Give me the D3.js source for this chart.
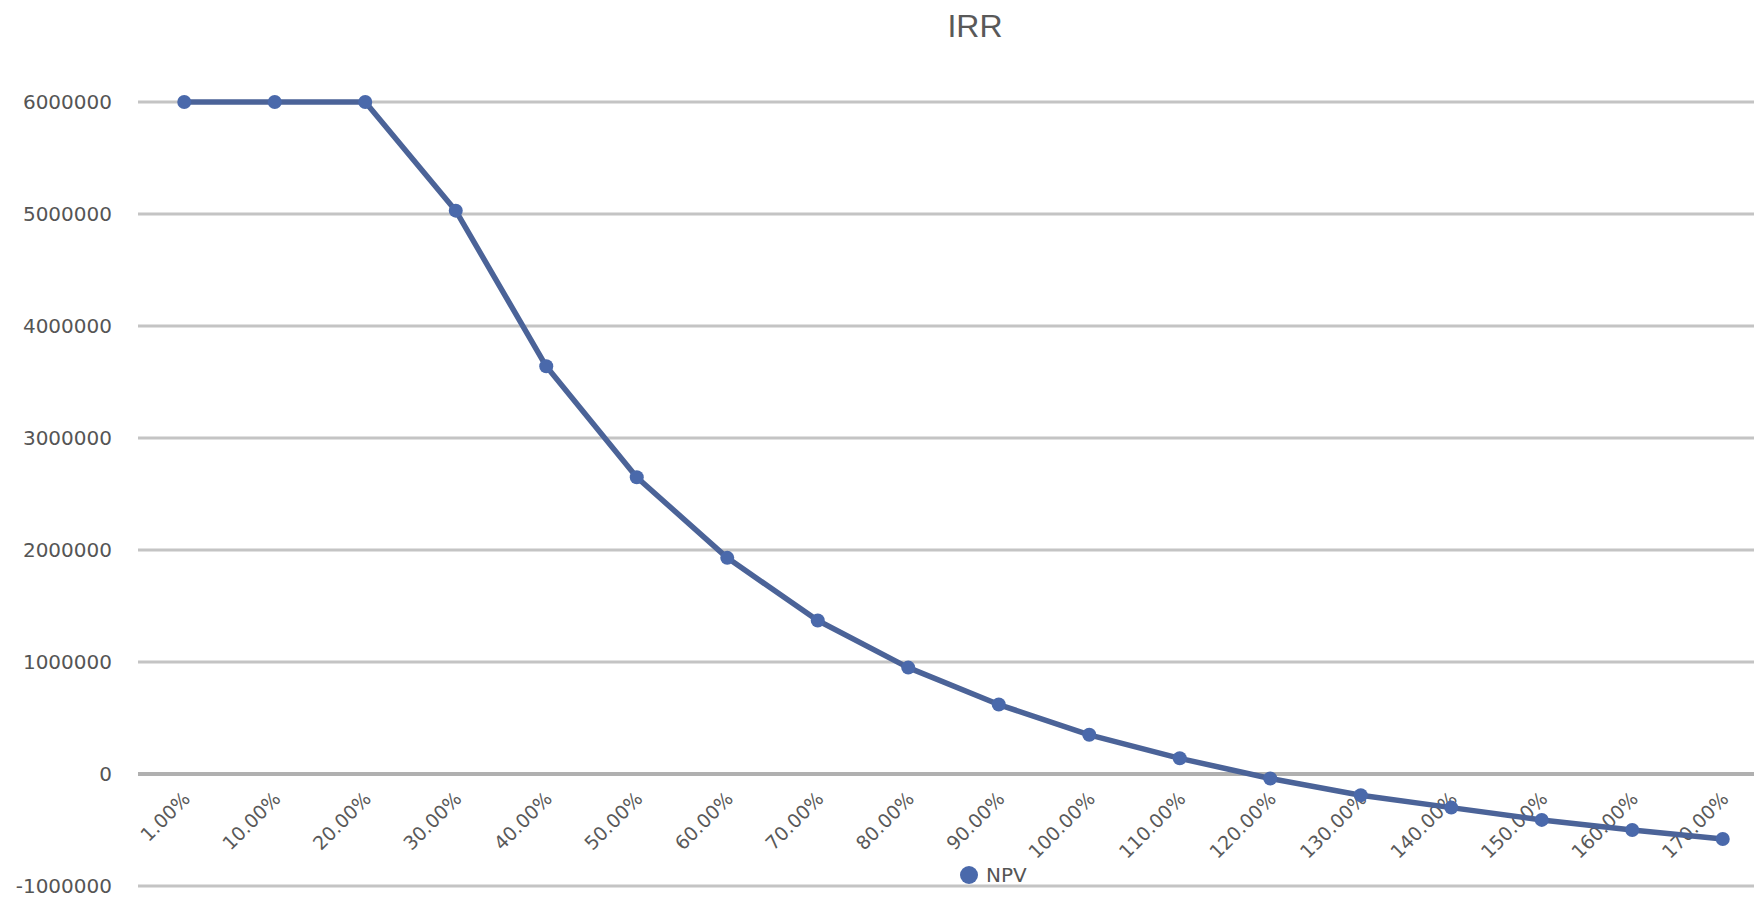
<!DOCTYPE html>
<html>
<head>
<meta charset="utf-8">
<script src="https://cdn.jsdelivr.net/npm/d3@7"></script>
<style>
  html, body { margin: 0; padding: 0; background: #fff; overflow: hidden; }
  svg { display: block; }
</style>
</head>
<body>
<svg id="chart" width="1754" height="901"></svg>
<script>
const categories = ["1.00%", "10.00%", "20.00%", "30.00%", "40.00%", "50.00%", "60.00%", "70.00%", "80.00%",
  "90.00%", "100.00%", "110.00%", "120.00%", "130.00%", "140.00%", "150.00%", "160.00%", "170.00%"];
const npvValues = [6000000, 6000000, 6000000, 5030000, 3640000, 2650000, 1930000, 1370000, 950000,
  620000, 350000, 140000, -40000, -190000, -300000, -410000, -500000, -580000];
const yTicks = [-1000000, 0, 1000000, 2000000, 3000000, 4000000, 5000000, 6000000];
const seriesName = "NPV";
const chartTitle = "IRR";

const svg = d3.select("#chart");
const W = 1754, H = 901;
const plotLeft = 139, plotRight = 1768;
const plotTop = 102, plotBottom = 886;

const x = d3.scalePoint().domain(categories).range([plotLeft, plotRight]).padding(0.5);
const y = d3.scaleLinear().domain([-1000000, 6000000]).range([plotBottom, plotTop]);

// gridlines
svg.append("g").selectAll("line").data(yTicks).join("line")
  .attr("x1", plotLeft - 1).attr("x2", W)
  .attr("y1", d => y(d)).attr("y2", d => y(d))
  .attr("stroke", d => d === 0 ? "#b0b0b0" : "#c4c4c4")
  .attr("stroke-width", d => d === 0 ? 4 : 3);

// y axis labels
const yAxis = d3.axisLeft(y).tickValues(yTicks).tickSize(0).tickPadding(0).tickFormat(d => String(d));
const gy = svg.append("g").attr("transform", `translate(${112},0)`).call(yAxis);
gy.select(".domain").remove();
gy.selectAll("text")
  .attr("font-family", "DejaVu Sans, Verdana, sans-serif")
  .attr("font-size", 20)
  .attr("fill", "#555555");

// x labels (rotated), positioned at zero line
const gx = svg.append("g");
gx.selectAll("text").data(categories).join("text")
  .attr("transform", d => `translate(${x(d) + 7},${y(0) + 26}) rotate(-45)`)
  .attr("text-anchor", "end")
  .attr("font-family", "DejaVu Sans, Verdana, sans-serif")
  .attr("font-size", 19)
  .attr("fill", "#595959")
  .text(d => d);

// line
const line = d3.line().x((d, i) => x(categories[i])).y(d => y(d));
svg.append("path").datum(npvValues)
  .attr("d", line)
  .attr("fill", "none")
  .attr("stroke", "#4b6398")
  .attr("stroke-width", 5.5)
  .attr("stroke-linejoin", "round");

svg.append("g").selectAll("circle").data(npvValues).join("circle")
  .attr("cx", (d, i) => x(categories[i]))
  .attr("cy", d => y(d))
  .attr("r", 7)
  .attr("fill", "#4a69ab");

// title
svg.append("text")
  .attr("x", 975).attr("y", 37)
  .attr("text-anchor", "middle")
  .attr("font-family", "Liberation Sans, Arial, sans-serif")
  .attr("font-size", 32)
  .attr("fill", "#595959")
  .text(chartTitle);

// legend
const lg = svg.append("g").attr("transform", "translate(969,875)");
lg.append("circle").attr("r", 9).attr("fill", "#4a69ab");
lg.append("text").attr("x", 17).attr("y", 7)
  .attr("font-family", "DejaVu Sans, Verdana, sans-serif")
  .attr("font-size", 20)
  .attr("fill", "#555555")
  .text(seriesName);
</script>
</body>
</html>
